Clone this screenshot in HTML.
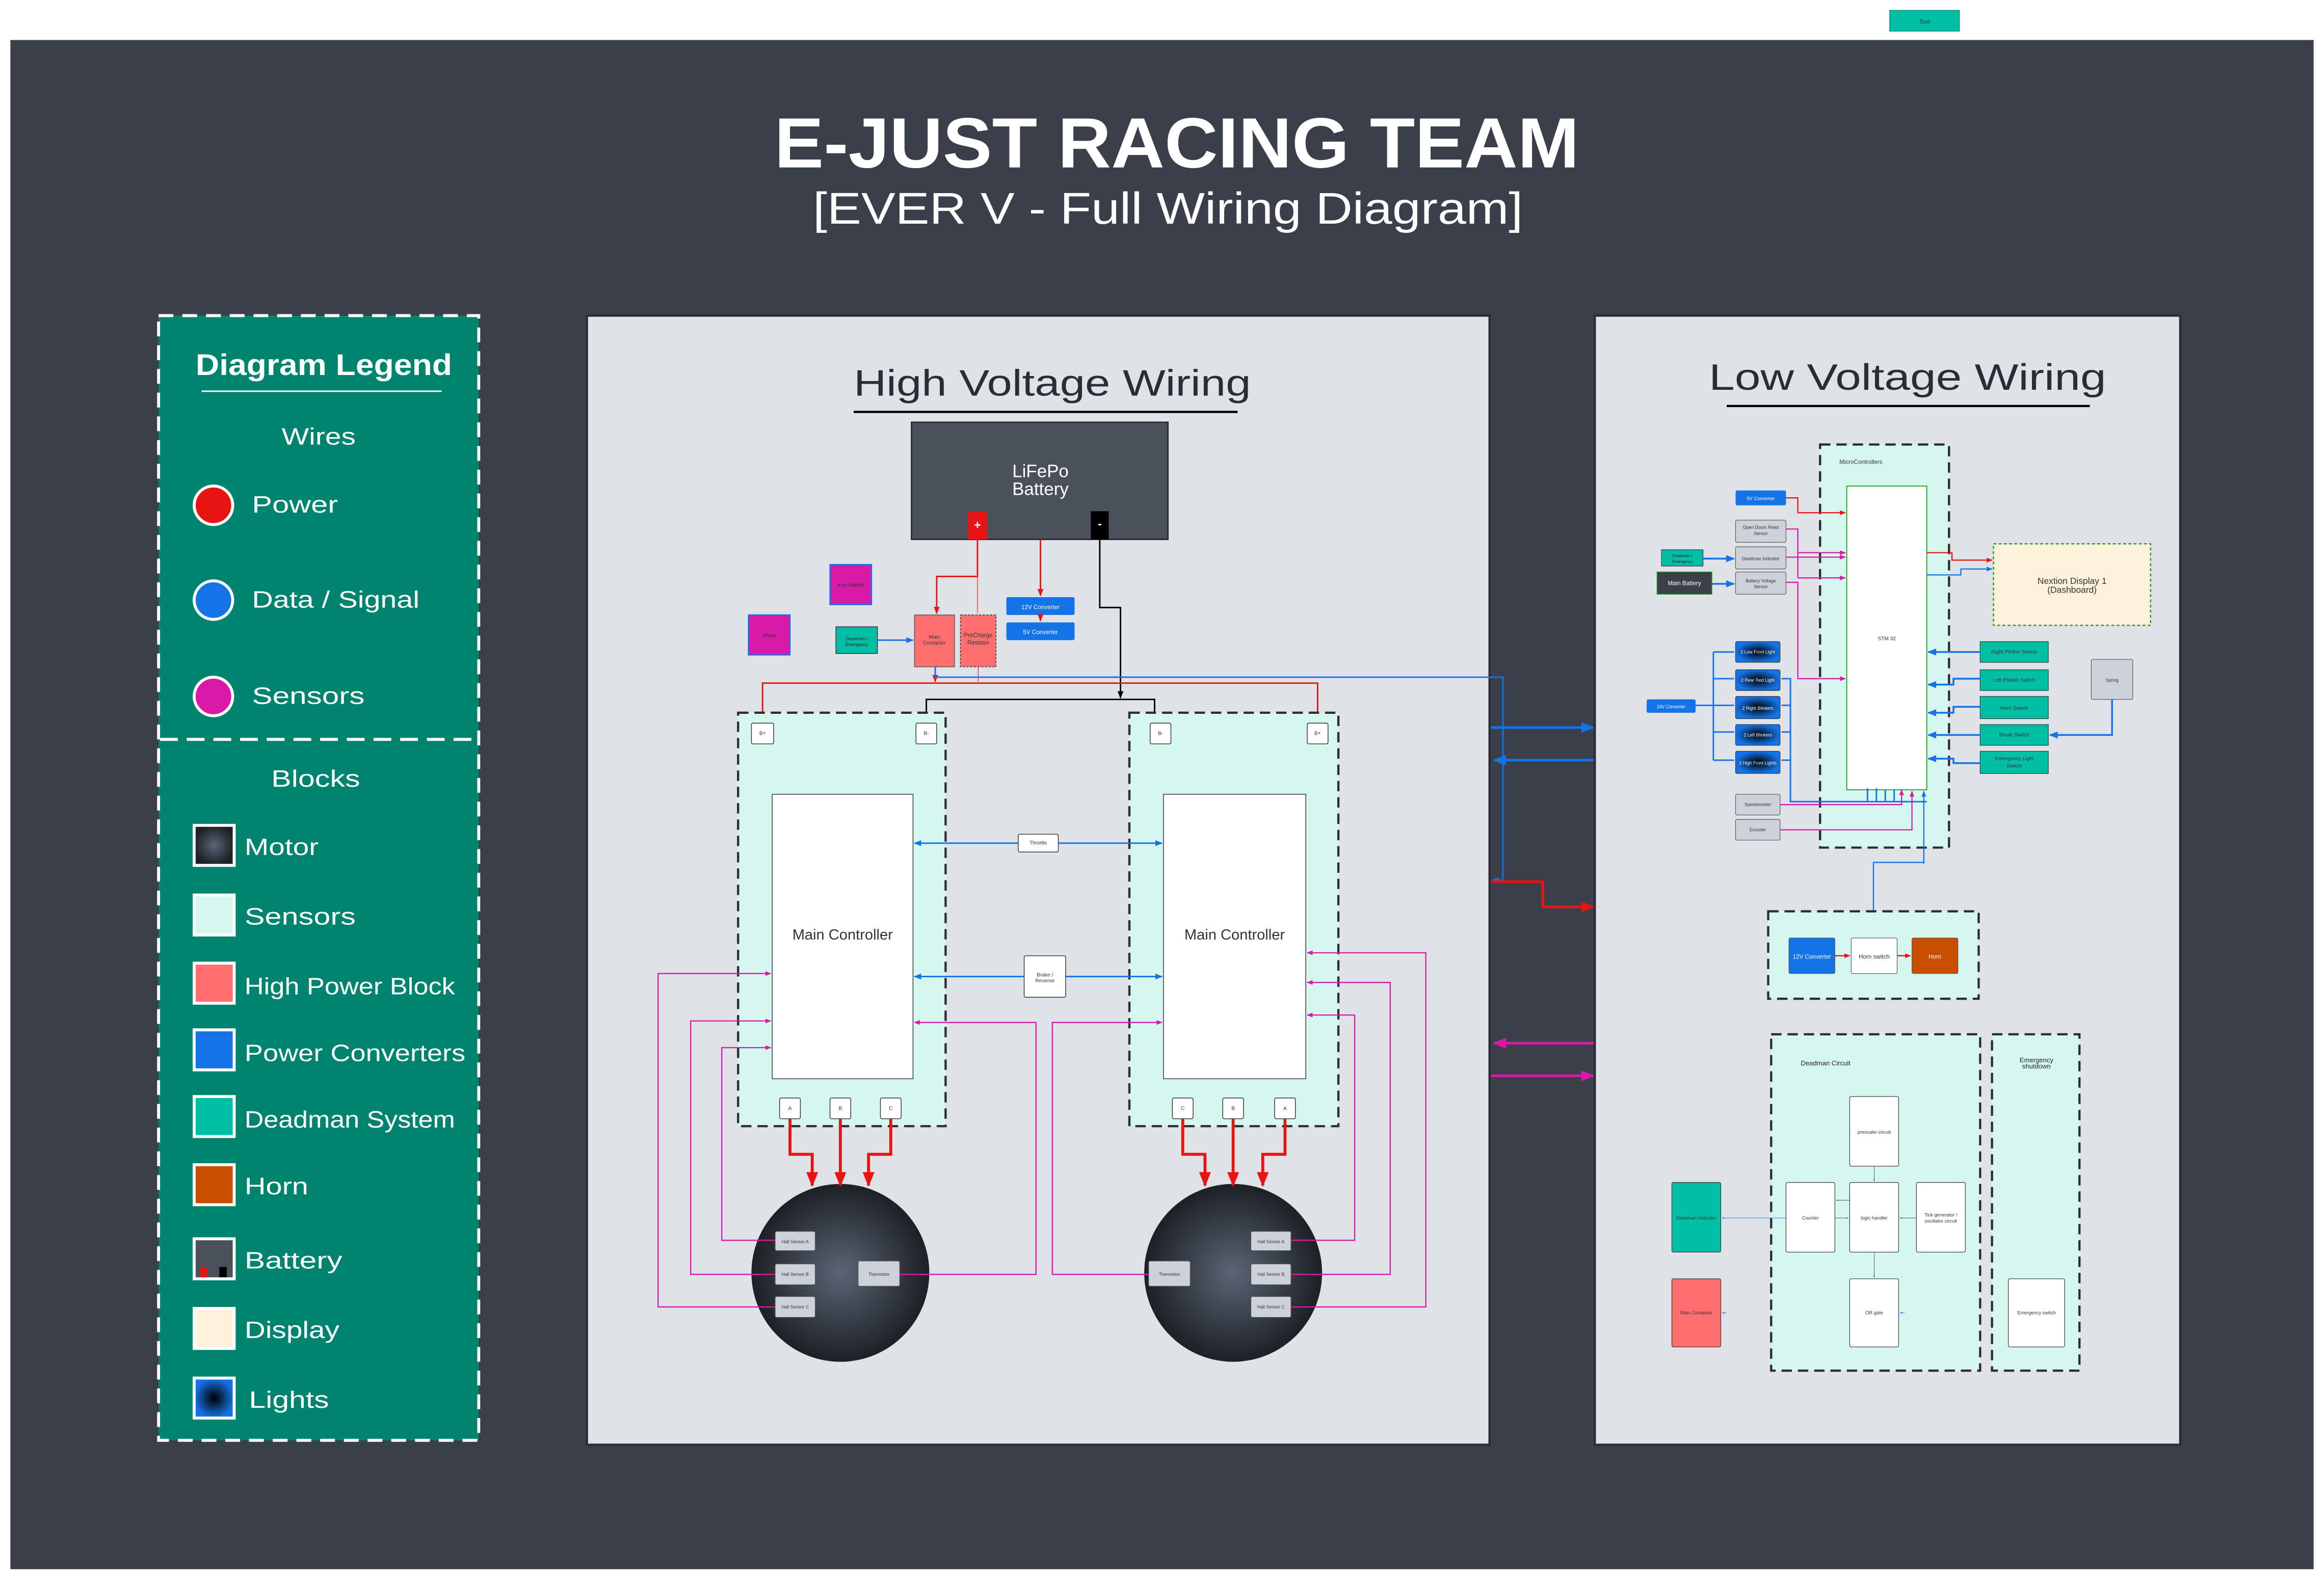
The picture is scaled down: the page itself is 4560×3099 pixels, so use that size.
<!DOCTYPE html>
<html><head><meta charset="utf-8"><style>html,body{margin:0;padding:0;background:#fff}svg{display:block}</style></head>
<body>
<svg xmlns="http://www.w3.org/2000/svg" width="4560" height="3099" viewBox="0 0 1568 1065.6" preserveAspectRatio="none" font-family="Liberation Sans, sans-serif">
<defs>
<marker id="mr" viewBox="0 0 10 10" refX="9" refY="5" markerWidth="5" markerHeight="5" orient="auto"><path d="M0,1L10,5L0,9z" fill="#e81414"/></marker>
<marker id="mb" viewBox="0 0 10 10" refX="9" refY="5" markerWidth="5" markerHeight="5" orient="auto"><path d="M0,1L10,5L0,9z" fill="#1473e6"/></marker>
<marker id="mm" viewBox="0 0 10 10" refX="9" refY="5" markerWidth="5" markerHeight="5" orient="auto"><path d="M0,1L10,5L0,9z" fill="#d91aa8"/></marker>
<marker id="mk" viewBox="0 0 10 10" refX="9" refY="5" markerWidth="5" markerHeight="5" orient="auto"><path d="M0,1L10,5L0,9z" fill="#000"/></marker>
<marker id="mg" viewBox="0 0 10 10" refX="9" refY="5" markerWidth="4" markerHeight="4" orient="auto"><path d="M0,1L10,5L0,9z" fill="#3a3f49"/></marker>
<radialGradient id="motor"><stop offset="0" stop-color="#5a6575"/><stop offset="1" stop-color="#1d2025"/></radialGradient>
<radialGradient id="light"><stop offset="0" stop-color="#000"/><stop offset="1" stop-color="#1473e6"/></radialGradient>
</defs>
<rect width="1568" height="1066" fill="#fff"/>
<rect x="1275" y="7" width="47" height="14" fill="#00bfa5" stroke="#0a8a78" stroke-width="0.5"/>
<text x="1298.5" y="16" font-size="4" text-anchor="middle" fill="#333">Text</text>
<rect x="7" y="27" width="1554" height="1032" fill="#3a3f49"/>
<text x="794" y="113" font-size="48" font-weight="bold" fill="#fff" text-anchor="middle" textLength="543" lengthAdjust="spacingAndGlyphs">E-JUST RACING TEAM</text>
<text x="788" y="151" font-size="30" fill="#fff" text-anchor="middle" textLength="479" lengthAdjust="spacingAndGlyphs">[EVER V - Full Wiring Diagram]</text>

<!-- Legend -->
<rect x="107" y="213" width="216" height="759" fill="#00846f" stroke="#fff" stroke-width="2" stroke-dasharray="10,6"/>
<text x="132" y="253" font-size="20" font-weight="bold" fill="#fff" textLength="173" lengthAdjust="spacingAndGlyphs">Diagram Legend</text>
<line x1="136" y1="264" x2="298" y2="264" stroke="#fff" stroke-width="1"/>
<text x="190" y="300" font-size="16" fill="#fff" textLength="50" lengthAdjust="spacingAndGlyphs">Wires</text>
<circle cx="144" cy="341" r="13" fill="#e81414" stroke="#fff" stroke-width="2"/>
<circle cx="144" cy="405" r="13" fill="#1473e6" stroke="#fff" stroke-width="2"/>
<circle cx="144" cy="470" r="13" fill="#d91aa8" stroke="#fff" stroke-width="2"/>
<g font-size="16" fill="#fff" lengthAdjust="spacingAndGlyphs">
<text x="170" y="346" textLength="58" lengthAdjust="spacingAndGlyphs">Power</text>
<text x="170" y="410" textLength="113" lengthAdjust="spacingAndGlyphs">Data / Signal</text>
<text x="170" y="475" textLength="76" lengthAdjust="spacingAndGlyphs">Sensors</text>
</g>
<line x1="108" y1="499" x2="322" y2="499" stroke="#fff" stroke-width="2" stroke-dasharray="12,6"/>
<text x="183" y="531" font-size="16" fill="#fff" textLength="60" lengthAdjust="spacingAndGlyphs">Blocks</text>
<g stroke="#fff" stroke-width="2">
<rect x="131" y="557" width="27" height="27" fill="url(#motor)"/>
<rect x="131" y="604" width="27" height="27" fill="#d6f7f0"/>
<rect x="131" y="650" width="27" height="27" fill="#ff6f6f"/>
<rect x="131" y="695" width="27" height="27" fill="#1473e6"/>
<rect x="131" y="740" width="27" height="27" fill="#00bfa5"/>
<rect x="131" y="786" width="27" height="27" fill="#c94f00"/>
<rect x="131" y="836" width="27" height="27" fill="#4b515b"/>
<rect x="131" y="883" width="27" height="27" fill="#fff2dc"/>
<rect x="131" y="930" width="27" height="27" fill="url(#light)"/>
</g>
<rect x="135" y="855" width="5" height="7" fill="#e81414"/><rect x="148" y="855" width="5" height="7" fill="#000"/>
<g font-size="16" fill="#fff">
<text x="165" y="577" textLength="50" lengthAdjust="spacingAndGlyphs">Motor</text>
<text x="165" y="624" textLength="75" lengthAdjust="spacingAndGlyphs">Sensors</text>
<text x="165" y="671" textLength="142" lengthAdjust="spacingAndGlyphs">High Power Block</text>
<text x="165" y="716" textLength="149" lengthAdjust="spacingAndGlyphs">Power Converters</text>
<text x="165" y="761" textLength="142" lengthAdjust="spacingAndGlyphs">Deadman System</text>
<text x="165" y="806" textLength="43" lengthAdjust="spacingAndGlyphs">Horn</text>
<text x="165" y="856" textLength="66" lengthAdjust="spacingAndGlyphs">Battery</text>
<text x="165" y="903" textLength="64" lengthAdjust="spacingAndGlyphs">Display</text>
<text x="168" y="950" textLength="54" lengthAdjust="spacingAndGlyphs">Lights</text>
</g>

<!-- HV panel -->
<rect x="396" y="213" width="609" height="762" fill="#dfe2e7" stroke="#2a2d33" stroke-width="1.5"/>
<text x="710" y="267" font-size="25" fill="#2a2d33" text-anchor="middle" textLength="268" lengthAdjust="spacingAndGlyphs">High Voltage Wiring</text>
<line x1="576" y1="278" x2="835" y2="278" stroke="#000" stroke-width="1.5"/>
<rect x="615" y="285" width="173" height="79" fill="#4b515b" stroke="#2a2d33" stroke-width="1"/>
<text x="702" y="322" font-size="12" fill="#fff" text-anchor="middle">LiFePo</text>
<text x="702" y="334" font-size="12" fill="#fff" text-anchor="middle">Battery</text>
<rect x="653" y="345" width="13" height="19" fill="#e81414"/><text x="659.5" y="357" font-size="8" fill="#fff" text-anchor="middle" font-weight="bold">+</text>
<rect x="736" y="345" width="12" height="19" fill="#000"/><text x="742" y="356" font-size="8" fill="#fff" text-anchor="middle" font-weight="bold">-</text>
<rect x="560" y="381" width="28" height="27" fill="#d91aa8" stroke="#1473e6" stroke-width="0.8"/><text x="574" y="396" font-size="3.5" text-anchor="middle" fill="#333">Key Switch</text>
<rect x="505" y="415" width="28" height="27" fill="#d91aa8" stroke="#1473e6" stroke-width="0.8"/><text x="519" y="430" font-size="3.5" text-anchor="middle" fill="#333">Shunt</text>
<rect x="564" y="423" width="28" height="18" fill="#00bfa5" stroke="#333" stroke-width="0.5"/><text x="578" y="432" font-size="3" text-anchor="middle" fill="#222">Deadman /</text><text x="578" y="436" font-size="3" text-anchor="middle" fill="#222">Emergency</text>
<rect x="617" y="415" width="27" height="35" fill="#ff6f6f" stroke="#555" stroke-width="0.5"/><text x="630.5" y="431" font-size="3.5" text-anchor="middle" fill="#333">Main</text><text x="630.5" y="435" font-size="3.5" text-anchor="middle" fill="#333">Contactor</text>
<rect x="648" y="415" width="24" height="35" fill="#ff6f6f" stroke="#333" stroke-width="0.5" stroke-dasharray="1.5,1"/><text x="660" y="430" font-size="4" text-anchor="middle" fill="#333">PreCharge</text><text x="660" y="435" font-size="4" text-anchor="middle" fill="#333">Resistor</text>
<rect x="679" y="403" width="46" height="12" fill="#1473e6" rx="1"/><text x="702" y="411" font-size="4" fill="#fff" text-anchor="middle">12V Converter</text>
<rect x="679" y="420" width="46" height="12" fill="#1473e6" rx="1"/><text x="702" y="428" font-size="4" fill="#fff" text-anchor="middle">5V Converter</text>
<g fill="none" stroke-width="1">
<path d="M659.5,364V389H632V414" stroke="#e81414" marker-end="url(#mr)"/>
<path d="M659.5,389V414" stroke="#e81414" stroke-width="0.4"/>
<path d="M702,364V402" stroke="#e81414" marker-end="url(#mr)"/>
<path d="M702,415V419" stroke="#e81414" marker-end="url(#mr)"/>
<path d="M742,364V410H756V471" stroke="#000" marker-end="url(#mk)"/>
<path d="M592,432H616" stroke="#1473e6" marker-end="url(#mb)"/>
<path d="M631,450V460" stroke="#e81414" marker-end="url(#mr)"/>
<path d="M660,450V460" stroke="#e81414" stroke-width="0.4"/>
<path d="M631,450V457H1014V594H1007" stroke="#1473e6" marker-end="url(#mb)"/>
<path d="M514.5,487V461H889V487" stroke="#e81414" marker-end="url(#mr)"/>
<path d="M625,487V472H779V487" stroke="#000" marker-end="url(#mk)"/>
</g>
<!-- controllers -->
<g stroke="#2a2d33" stroke-width="1.5" stroke-dasharray="7,4" fill="#d6f7f0">
<rect x="498" y="481" width="140" height="279"/>
<rect x="762" y="481" width="141" height="279"/>
</g>
<g fill="#fff" stroke="#333" stroke-width="0.5">
<rect x="507" y="488" width="15" height="14" rx="1"/><rect x="618" y="488" width="14" height="14" rx="1"/>
<rect x="776" y="488" width="14" height="14" rx="1"/><rect x="882" y="488" width="14" height="14" rx="1"/>
<rect x="521" y="536" width="95" height="192"/><rect x="785" y="536" width="96" height="192"/>
<rect x="526" y="741" width="14" height="14" rx="1"/><rect x="560" y="741" width="14" height="14" rx="1"/><rect x="594" y="741" width="14" height="14" rx="1"/>
<rect x="791" y="741" width="14" height="14" rx="1"/><rect x="825" y="741" width="14" height="14" rx="1"/><rect x="860" y="741" width="14" height="14" rx="1"/>
<rect x="687" y="563" width="27" height="12" rx="1"/><rect x="691" y="645" width="28" height="28" rx="1"/>
</g>
<g font-size="3.5" fill="#333" text-anchor="middle">
<text x="514.5" y="496">B+</text><text x="625" y="496">B-</text><text x="783" y="496">B-</text><text x="889" y="496">B+</text>
<text x="533" y="749">A</text><text x="567" y="749">B</text><text x="601" y="749">C</text>
<text x="798" y="749">C</text><text x="832" y="749">B</text><text x="867" y="749">A</text>
<text x="700.5" y="570">Throttle</text><text x="705" y="659">Brake /</text><text x="705" y="663">Reverse</text>
</g>
<text x="568.5" y="634" font-size="10" fill="#333" text-anchor="middle">Main Controller</text>
<text x="833" y="634" font-size="10" fill="#333" text-anchor="middle">Main Controller</text>
<g fill="none" stroke="#1473e6" stroke-width="1">
<path d="M687,569H617" marker-end="url(#mb)"/><path d="M714,569H784" marker-end="url(#mb)"/>
<path d="M691,659H617" marker-end="url(#mb)"/><path d="M719,659H784" marker-end="url(#mb)"/>
</g>
<!-- motors -->
<circle cx="567" cy="859" r="60" fill="url(#motor)"/>
<circle cx="832" cy="859" r="60" fill="url(#motor)"/>
<g fill="none" stroke="#e81414" stroke-width="2">
<path d="M533,755V779H548V800" marker-end="url(#mr)"/><path d="M567,755V800" marker-end="url(#mr)"/><path d="M601,755V779H586V800" marker-end="url(#mr)"/>
<path d="M798,755V779H813V800" marker-end="url(#mr)"/><path d="M832,755V800" marker-end="url(#mr)"/><path d="M867,755V779H852V800" marker-end="url(#mr)"/>
</g>
<g fill="#cdd2da" stroke="#555" stroke-width="0.4">
<rect x="523" y="831" width="27" height="13" rx="1"/><rect x="523" y="853" width="27" height="14" rx="1"/><rect x="523" y="875" width="27" height="14" rx="1"/><rect x="579" y="851" width="28" height="17" rx="1"/>
<rect x="844" y="831" width="27" height="13" rx="1"/><rect x="844" y="853" width="27" height="14" rx="1"/><rect x="844" y="875" width="27" height="14" rx="1"/><rect x="775" y="851" width="28" height="17" rx="1"/>
</g>
<g font-size="3" fill="#333" text-anchor="middle">
<text x="536.5" y="839">Hall Sensor A</text><text x="536.5" y="861">Hall Sensor B</text><text x="536.5" y="883">Hall Sensor C</text><text x="593" y="861">Thermistor</text>
<text x="857.5" y="839">Hall Sensor A</text><text x="857.5" y="861">Hall Sensor B</text><text x="857.5" y="883">Hall Sensor C</text><text x="789" y="861">Thermistor</text>
</g>
<g fill="none" stroke="#d91aa8" stroke-width="0.8">
<path d="M523,837H487V707H520" marker-end="url(#mm)"/>
<path d="M523,860H466V689H520" marker-end="url(#mm)"/>
<path d="M523,882H444V657H520" marker-end="url(#mm)"/>
<path d="M607,860H699V690H617" marker-end="url(#mm)"/>
<path d="M871,837H914V685H882" marker-end="url(#mm)"/>
<path d="M871,860H938V663H882" marker-end="url(#mm)"/>
<path d="M871,882H962V643H882" marker-end="url(#mm)"/>
<path d="M775,860H710V690H784" marker-end="url(#mm)"/>
</g>

<!-- gap wires -->
<g fill="none" stroke-width="1.8">
<path d="M1006,491H1075" stroke="#1473e6" marker-end="url(#mb)"/>
<path d="M1077,513H1008" stroke="#1473e6" marker-end="url(#mb)"/>
<path d="M1006,595H1041V612H1075" stroke="#e81414" marker-end="url(#mr)"/>
<path d="M1077,704H1008" stroke="#d91aa8" marker-end="url(#mm)"/>
<path d="M1006,726H1075" stroke="#d91aa8" marker-end="url(#mm)"/>
</g>

<!-- LV panel -->
<rect x="1076" y="213" width="395" height="762" fill="#dfe2e7" stroke="#2a2d33" stroke-width="1.5"/>
<text x="1287" y="263" font-size="25" fill="#2a2d33" text-anchor="middle" textLength="268" lengthAdjust="spacingAndGlyphs">Low Voltage Wiring</text>
<line x1="1165" y1="274" x2="1410" y2="274" stroke="#000" stroke-width="1.5"/>
<rect x="1228" y="300" width="87" height="272" fill="#d6f7f0" stroke="#2a2d33" stroke-width="1.5" stroke-dasharray="7,4"/>
<text x="1241" y="313" font-size="4" fill="#333">MicroControllers</text>
<rect x="1246" y="328" width="54" height="205" fill="#fff" stroke="#1a9a1a" stroke-width="0.6"/>
<text x="1273" y="432" font-size="3.5" fill="#333" text-anchor="middle">STM 32</text>
<rect x="1345" y="367" width="106" height="55" fill="#fff2dc" stroke="#1a9a1a" stroke-width="0.8" stroke-dasharray="2,1.5"/>
<text x="1398" y="394" font-size="6" fill="#333" text-anchor="middle">Nextion Display 1</text>
<text x="1398" y="400" font-size="6" fill="#333" text-anchor="middle">(Dashboard)</text>
<rect x="1171" y="331" width="34" height="10" fill="#1473e6" rx="1"/><text x="1188" y="337.5" font-size="3.2" fill="#fff" text-anchor="middle">5V Converter</text>
<g fill="#cdd2da" stroke="#555" stroke-width="0.4">
<rect x="1171" y="351" width="34" height="15" rx="1"/><rect x="1171" y="369" width="34" height="15" rx="1"/><rect x="1171" y="386" width="34" height="15" rx="1"/>
<rect x="1171" y="536" width="30" height="14" rx="1"/><rect x="1171" y="553" width="30" height="14" rx="1"/>
<rect x="1411" y="445" width="28" height="27" rx="1"/>
</g>
<g font-size="3" fill="#333" text-anchor="middle">
<text x="1188" y="357">Open Doors Reed</text><text x="1188" y="361">Sensor</text>
<text x="1188" y="378">Deadman Indicator</text>
<text x="1188" y="393">Battery Voltage</text><text x="1188" y="397">Sensor</text>
<text x="1186" y="544">Speedometer</text><text x="1186" y="561">Encoder</text>
<text x="1425" y="460">Spring</text>
</g>
<rect x="1121" y="371" width="28" height="11" fill="#00bfa5" stroke="#333" stroke-width="0.4"/><text x="1135" y="376" font-size="2.8" fill="#222" text-anchor="middle">Deadman /</text><text x="1135" y="380" font-size="2.8" fill="#222" text-anchor="middle">Emergency</text>
<rect x="1118" y="386" width="37" height="15" fill="#3a3f49" stroke="#1a9a1a" stroke-width="0.5"/><text x="1136.5" y="395" font-size="4" fill="#fff" text-anchor="middle">Main Battery</text>
<rect x="1111" y="472" width="33" height="9" fill="#1473e6" rx="1"/><text x="1127.5" y="478" font-size="3" fill="#fff" text-anchor="middle">24V Converter</text>
<g fill="url(#light)" stroke="#333" stroke-width="0.4">
<rect x="1171" y="433" width="30" height="14" rx="1"/><rect x="1171" y="452" width="30" height="14" rx="1"/><rect x="1171" y="470" width="30" height="15" rx="1"/><rect x="1171" y="489" width="30" height="14" rx="1"/><rect x="1171" y="507" width="30" height="15" rx="1"/>
</g>
<g font-size="3" fill="#fff" text-anchor="middle">
<text x="1186" y="441">2 Low Front Light</text><text x="1186" y="460">2 Rear Red Light</text><text x="1186" y="479">2 Right Blinkers</text><text x="1186" y="497">2 Left Blinkers</text><text x="1186" y="516">2 High Front Lights</text>
</g>
<g fill="#00bfa5" stroke="#333" stroke-width="0.4">
<rect x="1336" y="433" width="46" height="14"/><rect x="1336" y="452" width="46" height="14"/><rect x="1336" y="470" width="46" height="15"/><rect x="1336" y="489" width="46" height="14"/><rect x="1336" y="507" width="46" height="15"/>
</g>
<g font-size="3.5" fill="#333" text-anchor="middle">
<text x="1359" y="441">Right Plinker Switch</text><text x="1359" y="460">Left Plinker Switch</text><text x="1359" y="479">Horn Switch</text><text x="1359" y="497">Break Switch</text><text x="1359" y="513">Emergency Light</text><text x="1359" y="518">Switch</text>
</g>
<g fill="none" stroke-width="0.8">
<path d="M1205,336H1213V346H1245" stroke="#e81414" marker-end="url(#mr)"/>
<path d="M1205,357H1213V373H1245" stroke="#d91aa8" marker-end="url(#mm)"/>
<path d="M1205,376H1245" stroke="#d91aa8" marker-end="url(#mm)"/>
<path d="M1213,373V390" stroke="#d91aa8"/>
<path d="M1213,390H1245" stroke="#d91aa8" marker-end="url(#mm)"/>
<path d="M1205,393H1213V458H1245" stroke="#d91aa8" marker-end="url(#mm)"/>
<path d="M1149,377H1170" stroke="#1473e6" stroke-width="1.2" marker-end="url(#mb)"/>
<path d="M1155,394H1170" stroke="#1473e6" stroke-width="1.2" marker-end="url(#mb)"/>
<path d="M1300,373H1317V378H1344" stroke="#e81414" marker-end="url(#mr)"/>
<path d="M1300,388H1323V384H1344" stroke="#1473e6" marker-end="url(#mb)"/>
<path d="M1144,476H1156M1156,440V513M1156,440H1170M1156,458H1170M1156,476H1170M1156,494H1170M1156,513H1170" stroke="#1473e6" stroke-width="1"/>
<path d="M1300,541H1208V458H1202M1208,476H1202M1208,494H1202M1208,513H1202" stroke="#1473e6" stroke-width="1"/>
<path d="M1260,541V532M1266,541V532M1272,541V533M1278,541V533" stroke="#1473e6" stroke-width="1"/>
<path d="M1201,543H1283V533" stroke="#d91aa8" marker-end="url(#mm)"/>
<path d="M1201,560H1290V534" stroke="#d91aa8" marker-end="url(#mm)"/>
<path d="M1298,583V534" stroke="#1473e6" marker-end="url(#mb)"/>
<path d="M1298,583V582H1264V633" stroke="#1473e6"/>
<path d="M1336,440H1301" stroke="#1473e6" stroke-width="1.2" marker-end="url(#mb)"/>
<path d="M1336,458H1318V462H1301" stroke="#1473e6" stroke-width="1.2" marker-end="url(#mb)"/>
<path d="M1336,477H1318V481H1301" stroke="#1473e6" stroke-width="1.2" marker-end="url(#mb)"/>
<path d="M1336,496H1301" stroke="#1473e6" stroke-width="1.2" marker-end="url(#mb)"/>
<path d="M1336,515H1318V512H1301" stroke="#1473e6" stroke-width="1.2" marker-end="url(#mb)"/>
<path d="M1425,472V496H1383" stroke="#1473e6" stroke-width="1.2" marker-end="url(#mb)"/>
</g>
<!-- horn -->
<rect x="1193" y="615" width="142" height="59" fill="#d6f7f0" stroke="#2a2d33" stroke-width="1.5" stroke-dasharray="7,4"/>
<rect x="1207" y="633" width="31" height="24" fill="#1473e6" stroke="#555" stroke-width="0.4" rx="1"/><text x="1222.5" y="647" font-size="4" fill="#fff" text-anchor="middle">12V Converter</text>
<rect x="1249" y="633" width="31" height="24" fill="#fff" stroke="#555" stroke-width="0.4" rx="1"/><text x="1264.5" y="647" font-size="4" fill="#333" text-anchor="middle">Horn switch</text>
<rect x="1290" y="633" width="31" height="24" fill="#c94f00" stroke="#555" stroke-width="0.4" rx="1"/><text x="1305.5" y="647" font-size="4" fill="#fff" text-anchor="middle">Horn</text>
<path d="M1238,645H1248" stroke="#e81414" stroke-width="0.8" marker-end="url(#mr)"/>
<path d="M1280,645H1289" stroke="#e81414" stroke-width="0.8" marker-end="url(#mr)"/>
<!-- deadman -->
<rect x="1195" y="698" width="141" height="227" fill="#d6f7f0" stroke="#2a2d33" stroke-width="1.5" stroke-dasharray="7,4"/>
<rect x="1344" y="698" width="59" height="227" fill="#d6f7f0" stroke="#2a2d33" stroke-width="1.5" stroke-dasharray="7,4"/>
<text x="1215" y="719" font-size="4.5" fill="#222">Deadman Circuit</text>
<text x="1374" y="717" font-size="4.5" fill="#222" text-anchor="middle">Emergency</text>
<text x="1374" y="721" font-size="4.5" fill="#222" text-anchor="middle">shutdown</text>
<g fill="#fff" stroke="#333" stroke-width="0.4">
<rect x="1248" y="740" width="33" height="47" rx="1"/><rect x="1205" y="798" width="33" height="47" rx="1"/><rect x="1248" y="798" width="33" height="47" rx="1"/><rect x="1293" y="798" width="33" height="47" rx="1"/><rect x="1248" y="863" width="33" height="46" rx="1"/><rect x="1355" y="863" width="38" height="46" rx="1"/>
</g>
<rect x="1128" y="798" width="33" height="47" fill="#00bfa5" stroke="#333" stroke-width="0.4" rx="1"/>
<rect x="1128" y="863" width="33" height="46" fill="#ff6f6f" stroke="#333" stroke-width="0.4" rx="1"/>
<g font-size="3.2" fill="#333" text-anchor="middle">
<text x="1264.5" y="765">prescaler circuit</text><text x="1221.5" y="823">Counter</text><text x="1264.5" y="823">logic handler</text>
<text x="1309.5" y="821">Tick generator /</text><text x="1309.5" y="825">oscillator circuit</text>
<text x="1264.5" y="887">OR gate</text><text x="1374" y="887">Emergency switch</text>
<text x="1144.5" y="823">Deadman Indicator</text><text x="1144.5" y="887">Main Contactor</text>
</g>
<g fill="none" stroke="#3a3f49" stroke-width="0.3">
<path d="M1264.5,787V797" marker-end="url(#mg)"/><path d="M1238,822H1247" marker-end="url(#mg)"/><path d="M1293,822H1282" marker-end="url(#mg)"/>
<path d="M1248,810H1239" marker-end="url(#mg)"/><path d="M1264.5,845V862" marker-end="url(#mg)"/>
</g>
<path d="M1205,822H1162" fill="none" stroke="#1473e6" stroke-width="0.3" marker-end="url(#mb)"/>
<path d="M1165,886H1162" fill="none" stroke="#1473e6" stroke-width="0.3" marker-end="url(#mb)"/>
<path d="M1285,886H1282" fill="none" stroke="#1473e6" stroke-width="0.3" marker-end="url(#mb)"/>
</svg>
</body></html>
